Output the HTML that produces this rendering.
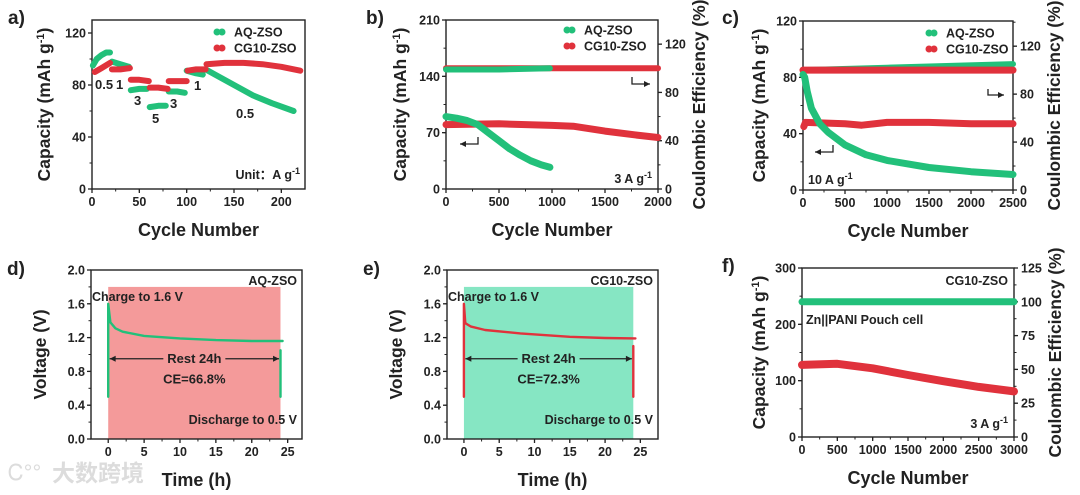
<!DOCTYPE html>
<html><head><meta charset="utf-8"><style>
html,body{margin:0;padding:0;background:#fff;}
svg{display:block;font-family:"Liberation Sans","Noto Sans CJK SC",sans-serif;font-weight:bold;}
</style></head><body>
<svg id="fig" width="1080" height="495" viewBox="0 0 1080 495" xmlns="http://www.w3.org/2000/svg">
<text x="8" y="480" font-size="22" fill="#dcdcdc" font-weight="normal">Ꮯ°°</text>
<text x="52" y="481" font-size="23" fill="#dcdcdc">大数跨境</text>
</svg>
<script>
// ---- data ----
const aAQ=[[1,95],[5,100],[10,103],[15,105],[19,105],null,[21,98],[30,96],[39,94],null,[41,76],[50,77],[58,77],null,[61,63],[70,64],[78,64],null,[81,75],[90,75],[98,74],null,[100,91],[110,89],[117,88],null,[120,92],[130,88],[150,80],[170,72],[190,66],[213,60]];
const aCG=[[1,29],null,[3,90],[10,93],[19,97],null,[21,92],[30,92],[40,93],null,[41,84],[50,84],[60,83],null,[61,78],[70,78],[80,77],null,[81,83],[90,83],[100,83],null,[101,91],[110,92],[120,92],null,[121,96],[140,97],[160,97],[180,96],[200,94],[220,91]];
const bAQcap=[[0,90],[100,88],[200,85],[300,80],[400,70],[500,60],[600,50],[700,42],[800,35],[900,30],[980,27]];
const bAQce=[[0,99],[500,99],[980,100]];
const bCGcap=[[0,80],[500,81],[1000,79],[1200,78],[1500,72],[1800,67],[2000,64]];
const bCGce=[[0,100],[1000,100],[2000,100]];
const cAQcap=[[0,82],[20,80],[50,70],[100,58],[200,47],[300,41],[500,32],[750,25],[1000,21],[1500,16],[2000,13],[2500,11]];
const cAQce=[[0,100],[1000,102],[2500,105]];
const cCGcap=[[0,30],null,[10,45],[30,48],[500,47],[700,46],[1000,48],[1500,48],[2000,47],[2500,47]];
const cCGce=[[0,100],[1250,100],[2500,100]];
const dCurve=[[0,0.5],[0,1.6],[0.3,1.38],[1,1.31],[2,1.27],[5,1.22],[10,1.19],[15,1.17],[20,1.16],[24.3,1.16]];
const dEnd=[[24,1.05],[24,0.5]];
const eCurve=[[0,0.5],[0,1.6],[0.2,1.37],[1,1.33],[3,1.29],[8,1.25],[15,1.21],[20,1.195],[24.3,1.19]];
const eEnd=[[24,1.1],[24,0.5]];
const fCap=[[0,128],[500,130],[1000,122],[1500,110],[2000,99],[2500,89],[3000,81]];
const fCE=[[0,100],[1500,100],[3000,100]];

const G='#22c07a', R='#e0323c';
const svg=document.getElementById('fig');
const NS='http://www.w3.org/2000/svg';
function mk(tag,attrs,parent){const e=document.createElementNS(NS,tag);for(const k in attrs)e.setAttribute(k,attrs[k]);(parent||svg).appendChild(e);return e;}
function txt(x,y,s,size,anchor,name,parent){const t=mk('text',{x:x,y:y,'font-size':size,'text-anchor':anchor||'start',fill:'#222'},parent);t.innerHTML=s;return t;}

function panel(p){
  const g=mk('g',{});
  
  
  const X=v=>p.x0+(v-p.xr[0])/(p.xr[1]-p.xr[0])*(p.x1-p.x0);
  const YL=v=>p.y1-(v-p.yl[0])/(p.yl[1]-p.yl[0])*(p.y1-p.y0);
  const YR=p.yr?(v=>p.y1-(v-p.yr[0])/(p.yr[1]-p.yr[0])*(p.y1-p.y0)):null;
  p.X=X;p.YL=YL;p.YR=YR;p.g=g;
  if(p.bg)p.bg(p);
  const box=mk('rect',{x:p.x0,y:p.y0,width:p.x1-p.x0,height:p.y1-p.y0,fill:'none',stroke:'#222','stroke-width':1.4},g);
  
  
  p.xt.forEach(v=>{mk('line',{x1:X(v),x2:X(v),y1:p.y1,y2:p.y1+4,stroke:'#222','stroke-width':1.3},g);txt(X(v),p.y1+17,p.xf?p.xf(v):v,12.5,'middle','x-tick-label',g);});
  for(let v=p.xt[0]+p.xm;v<p.xr[1];v+=p.xm)mk('line',{x1:X(v),x2:X(v),y1:p.y1,y2:p.y1+2.5,stroke:'#222'},g);
  p.ylt.forEach(v=>{mk('line',{x1:p.x0-4,x2:p.x0,y1:YL(v),y2:YL(v),stroke:'#222','stroke-width':1.3},g);txt(p.x0-6,YL(v)+4.5,p.ylf?p.ylf(v):v,12.5,'end','y-tick-label',g);});
  for(let v=p.yl[0]+p.ylm;v<p.yl[1];v+=p.ylm)mk('line',{x1:p.x0-2.5,x2:p.x0,y1:YL(v),y2:YL(v),stroke:'#222'},g);
  if(YR){
    p.yrt.forEach(v=>{mk('line',{x1:p.x1,x2:p.x1+4,y1:YR(v),y2:YR(v),stroke:'#222','stroke-width':1.3},g);txt(p.x1+7,YR(v)+4.5,v,12.5,'start','y2-tick-label',g);});
    for(let v=p.yr[0]+p.yrm;v<p.yr[1];v+=p.yrm)mk('line',{x1:p.x1,x2:p.x1+2.5,y1:YR(v),y2:YR(v),stroke:'#222'},g);
    const t=txt(0,0,'Coulombic Efficiency (%)',17.5,'middle','y2-axis-title',g);t.setAttribute('transform',`translate(${p.x1+47},${(p.y0+p.y1)/2}) rotate(-90)`);
  }
  const t=txt(0,0,p.ytitle,17.5,'middle','y-axis-title',g);t.setAttribute('transform',`translate(${p.ytx},${(p.y0+p.y1)/2}) rotate(-90)`);
  txt((p.x0+p.x1)/2,p.y1+47,p.xtitle,18,'middle','x-axis-title',g);
  txt(p.lx,p.ly,p.letter,19,'start','panel-letter',g);
  return p;
}
function series(p,data,axis,color,w,name){
  const Y=axis==='r'?p.YR:p.YL;
  let d='',start=true;
  data.forEach(pt=>{if(pt===null){start=true;return;}d+=(start?'M':'L')+p.X(pt[0]).toFixed(1)+','+Y(pt[1]).toFixed(1)+' ';start=false;});
  const e=mk('path',{d:d,fill:'none',stroke:color,'stroke-width':w,'stroke-linecap':'round','stroke-linejoin':'round'},p.g);
  
  
}
function legend(p,x,y){
  [[G,'AQ-ZSO'],[R,'CG10-ZSO']].forEach((l,i)=>{
    const c=mk('circle',{cx:x,cy:y+i*16,r:3.5,fill:l[0]},p.g);
    
    
    mk('circle',{cx:x+5,cy:y+i*16,r:3.5,fill:l[0]},p.g);
    txt(x+17,y+i*16+4.5,l[1],12.5,'start','legend-entry',p.g);
  });
}
function bentArrow(p,x1,y1,x2,y2,name){
  const e=mk('path',{d:`M${x1},${y1} L${x1},${y2} L${x2},${y2}`,fill:'none',stroke:'#222','stroke-width':1.3},p.g);
  
  
  const s=x2<x1?1:-1;
  mk('path',{d:`M${x2},${y2} L${x2+s*6},${y2-3} L${x2+s*6},${y2+3} Z`,fill:'#222'},p.g);
}
const capT='Capacity (mAh g<tspan baseline-shift="super" font-size="11">-1</tspan>)';
const agm='A g<tspan baseline-shift="super" font-size="9">-1</tspan>';

const pa=panel({name:'panel-a',x0:92,x1:305,y0:20,y1:189,xr:[0,225],yl:[0,130],xt:[0,50,100,150,200],xm:25,ylt:[0,40,80,120],ylm:20,ytitle:capT,ytx:50,xtitle:'Cycle Number',letter:'a)',lx:8,ly:24});
series(pa,aAQ,'l',G,6,'series-aq-zso');
series(pa,aCG,'l',R,6,'series-cg10-zso');
legend(pa,217,32);
[[95,89,'0.5'],[116,89,'1'],[134,105,'3'],[152,123,'5'],[170,108,'3'],[194,90,'1'],[236,118,'0.5']].forEach(a=>txt(a[0],a[1],a[2],13,'start','rate-label',pa.g));
txt(300,179,'Unit：'+agm,12.5,'end','unit-label',pa.g);

const pb=panel({name:'panel-b',x0:446,x1:658,y0:20,y1:189,xr:[0,2000],yl:[0,210],yr:[0,140],xt:[0,500,1000,1500,2000],xm:250,ylt:[0,70,140,210],ylm:35,yrt:[0,40,80,120],yrm:20,ytitle:capT,ytx:406,xtitle:'Cycle Number',letter:'b)',lx:366,ly:24});
series(pb,bCGce,'r',R,6,'series-cg10-ce');
series(pb,bAQce,'r',G,6,'series-aq-ce');
series(pb,bCGcap,'l',R,7,'series-cg10-capacity');
series(pb,bAQcap,'l',G,7,'series-aq-capacity');
legend(pb,567,30);
txt(652,183,'3 '+agm,12.5,'end','rate-label',pb.g);
bentArrow(pb,478,137,460,144,'left-axis-arrow');
bentArrow(pb,632,77,650,84,'right-axis-arrow');

const pc=panel({name:'panel-c',x0:803,x1:1013,y0:21,y1:190,xr:[0,2500],yl:[0,120],yr:[0,141],xt:[0,500,1000,1500,2000,2500],xm:250,ylt:[0,40,80,120],ylm:20,yrt:[0,40,80,120],yrm:20,ytitle:capT,ytx:765,xtitle:'Cycle Number',letter:'c)',lx:722,ly:24});
series(pc,cAQce,'r',G,6,'series-aq-ce');
series(pc,cCGce,'r',R,7,'series-cg10-ce');
series(pc,cCGcap,'l',R,7,'series-cg10-capacity');
series(pc,cAQcap,'l',G,7,'series-aq-capacity');
legend(pc,929,33);
txt(808,184,'10 '+agm,12.5,'start','rate-label',pc.g);
bentArrow(pc,833,145,815,152,'left-axis-arrow');
bentArrow(pc,988,89,1004,95,'right-axis-arrow');

function sd(cfg){
  const p=panel({name:cfg.name,x0:cfg.x0,x1:cfg.x1,y0:270,y1:439,xr:cfg.xr,yl:[0,2],xt:[0,5,10,15,20,25],xm:2.5,ylt:[0,0.4,0.8,1.2,1.6,2.0],ylm:0.2,ylf:v=>v.toFixed(1),ytitle:'Voltage (V)',ytx:cfg.x0-45,xtitle:'Time (h)',letter:cfg.letter,lx:cfg.x0-84,ly:275,
    bg:p=>{const r=mk('rect',{x:p.X(0),y:p.YL(1.8),width:p.X(24)-p.X(0),height:p.YL(0)-p.YL(1.8),fill:cfg.bgc},p.g);}});
  series(p,cfg.curve,'l',cfg.c,2.4,'voltage-curve');
  series(p,cfg.end,'l',cfg.c,2.4,'discharge-line');
  txt(cfg.x1-5,285,cfg.tag,12.5,'end','sample-label',p.g);
  txt(cfg.x0+1,301,'Charge to 1.6 V',12.5,'start','charge-label',p.g);
  const ya=p.YL(0.95),xa=p.X(0.2),xb=p.X(23.8),xm=(xa+xb)/2;
  mk('line',{x1:xa,x2:xm-31,y1:ya,y2:ya,stroke:'#222','stroke-width':1.2},p.g);
  mk('line',{x1:xm+31,x2:xb,y1:ya,y2:ya,stroke:'#222','stroke-width':1.2},p.g);
  mk('path',{d:`M${xa},${ya} l6,-3 l0,6 Z M${xb},${ya} l-6,-3 l0,6 Z`,fill:'#222'},p.g);
  txt(xm,ya+4.5,'Rest 24h',13,'middle','rest-label',p.g);
  txt(xm,ya+25,cfg.ce,13,'middle','ce-label',p.g);
  txt(cfg.x1-5,424,'Discharge to 0.5 V',12.5,'end','discharge-label',p.g);
}
sd({name:'panel-d',x0:91,x1:302,xr:[-2.4,27],letter:'d)',bgc:'#f49a9a',c:G,curve:dCurve,end:dEnd,tag:'AQ-ZSO',ce:'CE=66.8%'});
sd({name:'panel-e',x0:447,x1:658,xr:[-2.4,27.5],letter:'e)',bgc:'#86e6c3',c:R,curve:eCurve,end:eEnd,tag:'CG10-ZSO',ce:'CE=72.3%'});

const pf=panel({name:'panel-f',x0:802,x1:1014,y0:268,y1:437,xr:[0,3000],yl:[0,300],yr:[0,125],xt:[0,500,1000,1500,2000,2500,3000],xm:250,ylt:[0,100,200,300],ylm:50,yrt:[0,25,50,75,100,125],yrm:12.5,ytitle:capT,ytx:765,xtitle:'Cycle Number',letter:'f)',lx:722,ly:272});
series(pf,fCE,'r',G,7,'series-ce');
series(pf,fCap,'l',R,8,'series-capacity');
txt(1008,285,'CG10-ZSO',12.5,'end','sample-label',pf.g);
txt(806,324,'Zn||PANI Pouch cell',12.5,'start','cell-label',pf.g);
txt(1008,428,'3 '+agm,12.5,'end','rate-label',pf.g);
</script>
</body></html>
